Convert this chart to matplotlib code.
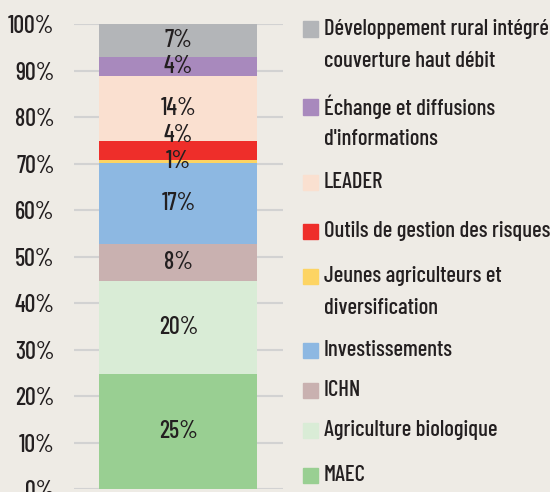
import matplotlib
matplotlib.use('Agg')
import matplotlib.pyplot as plt
from matplotlib.patches import Rectangle

plt.rcParams['font.family'] = ['Barlow Condensed', 'DejaVu Sans']
plt.rcParams['font.weight'] = 'medium'

# stacked from bottom to top
categories = ['MAEC', 'Agriculture biologique', 'ICHN', 'Investissements',
              'Jeunes agriculteurs et\ndiversification', 'Outils de gestion des risques',
              'LEADER', "Échange et diffusions\nd'informations",
              'Développement rural intégré\ncouverture haut débit']
values = [24.7, 20.1, 7.9, 17.35, 0.75, 4.05, 13.95, 4.1, 7.1]
labels = ['25%', '20%', '8%', '17%', '1%', '4%', '14%', '4%', '7%']
colors = ['#99cf92', '#d9ecd6', '#c9b1b0', '#8db8e2', '#fdd463',
          '#ee2e2a', '#fae0d0', '#a889bd', '#b3b5b8']
ticks = list(range(0, 101, 10))

bg = '#eeebe5'
txt = '#231f20'
fs = 16.3

fig = plt.figure(figsize=(5.5, 4.92), dpi=100, facecolor=bg)
ax = fig.add_axes([0.1345, 0.0055, 0.38, 0.9457])
ax.set_facecolor(bg)

bottom = 0
for i, (v, lab, c) in enumerate(zip(values, labels, colors)):
    ax.bar(0, v, width=0.756, bottom=bottom, color=c, zorder=2)
    ymid = bottom + v / 2
    if i == 5:  # red slice label sits a bit higher
        ymid += 3.2
    ax.text(0, ymid, lab, ha='center', va='center', fontsize=fs + 1, color=txt, zorder=3)
    bottom += v

ax.set_xlim(-0.5, 0.5)
ax.set_ylim(0, 100)
ax.set_yticks(ticks)
ax.set_yticklabels([f'{t}%' for t in ticks], fontsize=fs + 1, color=txt)
ax.set_xticks([])
ax.tick_params(axis='y', length=0, pad=14)
ax.grid(axis='y', color='#d2d2d2', lw=1.5, zorder=0)
for s in ax.spines.values():
    s.set_visible(False)

# legend drawn by hand, top entry first (pixel positions from top)
W, H = 550, 492
leg_y = [29, 107, 182, 231, 276, 350, 390, 430, 475]
for name, c, y in zip(categories[::-1], colors[::-1], leg_y):
    fig.patches.append(Rectangle((303 / W, 1 - (y + 7.5) / H), 15 / W, 15 / H,
                                 transform=fig.transFigure, color=c))
    for k, line in enumerate(name.split('\n')):
        fig.text(324 / W, 1 - (y + 32 * k) / H, line, ha='left', va='center',
                 fontsize=fs, color=txt)

fig.savefig('out.png', dpi=100, facecolor=bg)
